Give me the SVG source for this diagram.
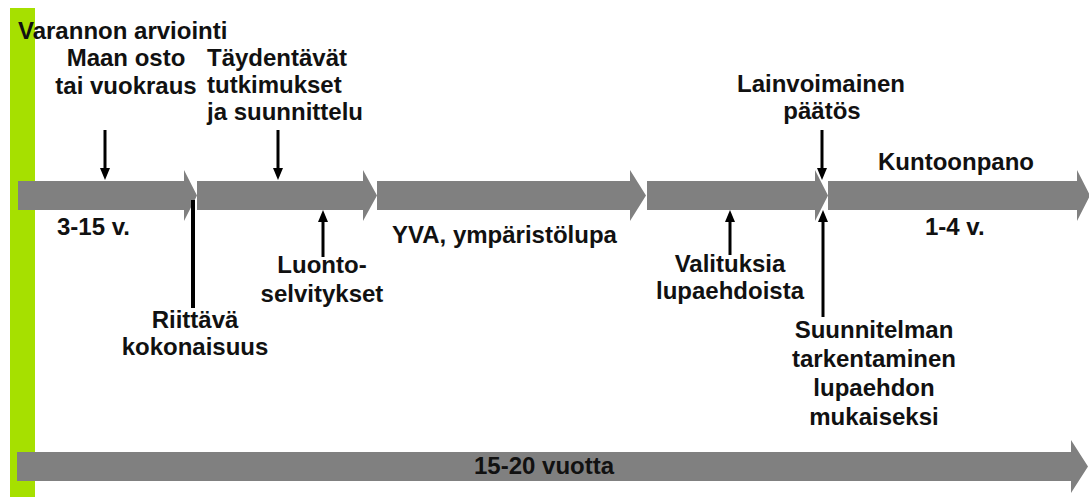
<svg xmlns="http://www.w3.org/2000/svg" width="1089" height="497" viewBox="0 0 1089 497">
<style>
.bar{fill:#808080}
.t{font-family:"Liberation Sans",Arial,sans-serif;font-size:24px;font-weight:bold;fill:#111}
.m{text-anchor:middle}
.c{stroke:#000;stroke-width:3;fill:none}
</style>
<defs>
<marker id="ah" viewBox="0 0 12 10" refX="4" refY="5" markerWidth="12" markerHeight="10" markerUnits="userSpaceOnUse" orient="auto">
<path d="M0,0 L12,5 L0,10 z" fill="#000"/>
</marker>
</defs>
<rect width="1089" height="497" fill="#fff"/>
<rect id="green" x="10" y="8" width="25" height="489" fill="#a6e000"/>

<g id="phase1"><polygon class="bar" points="18,181 184,181 184,170 197,195.5 184,221 184,210 18,210"/><text class="t" x="57" y="235">3-15 v.</text></g>
<g id="phase2"><polygon class="bar" points="197,181 363,181 363,170 377,195.5 363,221 363,210 197,210"/></g>
<g id="phase3"><polygon class="bar" points="377,181 630,181 630,170 646,195.5 630,221 630,210 377,210"/><text class="t" x="392" y="243">YVA, ympäristölupa</text></g>
<g id="phase4"><polygon class="bar" points="647,181 815,181 815,170 828,195.5 815,221 815,210 647,210"/></g>
<g id="phase5"><polygon class="bar" points="828,181 1077,181 1077,170 1090,195.5 1077,221 1077,210 828,210"/><text class="t" x="878" y="170">Kuntoonpano</text><text class="t" x="925" y="235">1-4 v.</text></g>
<g id="total"><polygon class="bar" points="17,452 1071,452 1071,440 1088,466.5 1071,493 1071,481 17,481"/><text class="t" x="474" y="474">15-20 vuotta</text></g>

<g id="varannon"><text class="t" x="18" y="39" font-size="23">Varannon arviointi</text></g>
<g id="maan"><text class="t m" x="126" y="66">Maan osto</text><text class="t m" x="126" y="94">tai vuokraus</text></g>
<g id="taydentavat"><text class="t" x="207" y="66">Täydentävät</text><text class="t" x="207" y="93">tutkimukset</text><text class="t" x="207" y="120">ja suunnittelu</text></g>
<g id="riittava"><text class="t m" x="195" y="328">Riittävä</text><text class="t m" x="195" y="355">kokonaisuus</text></g>
<g id="luonto"><text class="t m" x="322" y="273">Luonto-</text><text class="t m" x="322" y="302">selvitykset</text></g>
<g id="valituksia"><text class="t m" x="730" y="272">Valituksia</text><text class="t m" x="730" y="299">lupaehdoista</text></g>
<g id="lainvoimainen"><text class="t m" x="821" y="92">Lainvoimainen</text><text class="t m" x="822" y="119">päätös</text></g>
<g id="suunnitelman"><text class="t m" x="874" y="338">Suunnitelman</text><text class="t m" x="874" y="367">tarkentaminen</text><text class="t m" x="874" y="396">lupaehdon</text><text class="t m" x="874" y="425">mukaiseksi</text></g>

<g id="connectors">
<line class="c" x1="105" y1="130" x2="105" y2="172" marker-end="url(#ah)"/>
<line class="c" x1="278" y1="130" x2="278" y2="172" marker-end="url(#ah)"/>
<line class="c" x1="822" y1="130" x2="822" y2="172" marker-end="url(#ah)"/>
<line class="c" x1="323" y1="257" x2="323" y2="218" marker-end="url(#ah)"/>
<line class="c" x1="730" y1="255" x2="730" y2="218" marker-end="url(#ah)"/>
<line class="c" x1="823" y1="317" x2="823" y2="218" marker-end="url(#ah)"/>
<line x1="193" y1="200" x2="193" y2="308" stroke="#000" stroke-width="4"/>
</g>
</svg>
